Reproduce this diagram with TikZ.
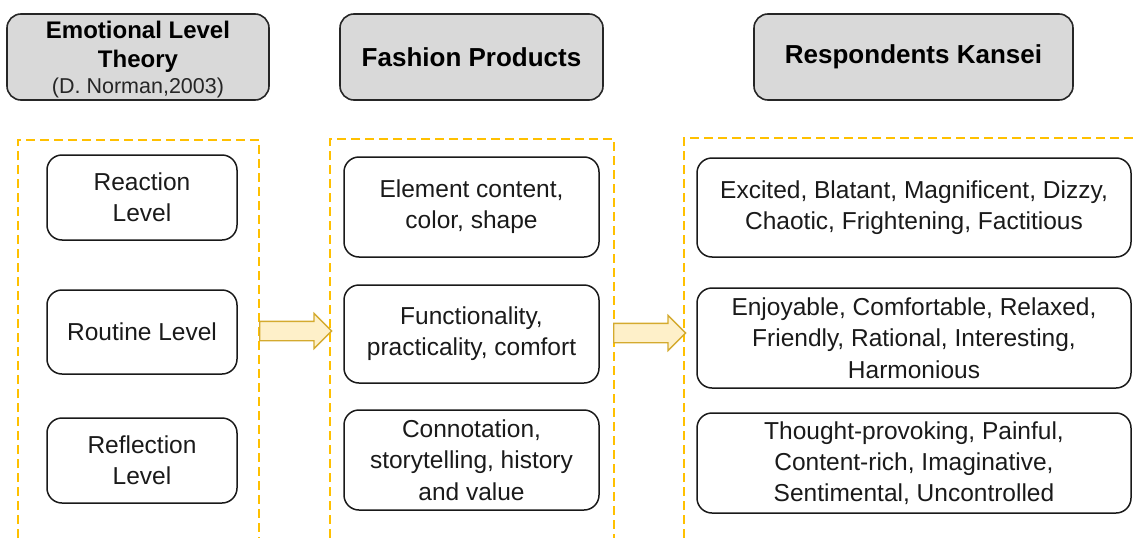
\documentclass[tikz,border=0pt]{standalone}
\usepackage{fontspec}
\setmainfont{Liberation Sans}
\usetikzlibrary{shapes.arrows}
\definecolor{frameY}{HTML}{FFC000}
\definecolor{arrFill}{HTML}{FEF0C9}
\definecolor{arrDraw}{HTML}{D4AA2E}
\definecolor{hdrFill}{HTML}{D9D9D9}
\definecolor{txt}{HTML}{1A1A1A}
\tikzset{
  hdr/.style={draw=black!85, line width=1.6pt, fill=hdrFill, rounded corners=14pt,
    inner sep=0pt, align=center, text=black, font=\fontsize{26}{29}\selectfont\bfseries},
  hdrtext/.style={inner sep=0pt, align=center, text=black, font=\fontsize{24}{29}\selectfont\bfseries},
  itembox/.style={draw=black!90, line width=1.5pt, rounded corners=15pt, inner sep=0pt,
    align=center, text=txt, font=\fontsize{24.5}{31.3}\selectfont},
  frame/.style={draw=frameY, line width=2pt, dash pattern=on 9pt off 5pt},
  blockarrow/.style={single arrow, draw=arrDraw, fill=arrFill, line width=1.3pt,
    minimum width=34pt, single arrow head extend=8pt, minimum height=72pt,
    inner xsep=0pt, inner ysep=9pt, anchor=tail}
}
\begin{document}
\begin{tikzpicture}[x=1pt,y=-1pt]
\useasboundingbox (0,0) rectangle (1137,538);
% headers
\node[hdr, minimum width=262pt, minimum height=86pt] (h1) at (138,57) {};
\node[hdrtext] (h1t) at (138,60)
  {Emotional Level\\Theory\\[-3pt]{\fontsize{21.5}{24}\selectfont\mdseries\color{black!85}(D. Norman,2003)}};
\node[hdr, minimum width=263pt, minimum height=86pt] (h2) at (471.5,57) {Fashion Products};
\node[hdr, minimum width=319pt, minimum height=86pt] (h3) at (913.5,57) {Respondents Kansei};
% frames
\draw[frame] (18,538) -- (18,140) -- (259,140) -- (259,538);
\draw[frame] (330,538) -- (330,139) -- (614,139) -- (614,538);
\draw[frame] (684,538) -- (684,138) -- (1137,138);
% left column
\node[itembox, minimum width=190pt, minimum height=85pt] (l1) at (142,197.5) {Reaction\\Level};
\node[itembox, minimum width=190pt, minimum height=84pt] (l2) at (142,332) {Routine Level};
\node[itembox, minimum width=190pt, minimum height=85pt] (l3) at (142,460.5) {Reflection\\Level};
% middle column
\node[itembox, minimum width=255pt, minimum height=100pt] (m1) at (471.5,207) {Element content,\\color, shape};
\node[itembox, minimum width=255pt, minimum height=98pt] (m2) at (471.5,334) {Functionality,\\practicality, comfort};
\node[itembox, minimum width=255pt, minimum height=100pt] (m3) at (471.5,460) {Connotation,\\storytelling, history\\and value};
% right column
\node[itembox, minimum width=434pt, minimum height=99pt] (r1) at (914,207.5) {Excited, Blatant, Magnificent, Dizzy,\\Chaotic, Frightening, Factitious};
\node[itembox, minimum width=434pt, minimum height=100pt] (r2) at (914,338) {Enjoyable, Comfortable, Relaxed,\\Friendly, Rational, Interesting,\\Harmonious};
\node[itembox, minimum width=434pt, minimum height=100pt] (r3) at (914,463) {Thought-provoking, Painful,\\Content-rich, Imaginative,\\Sentimental, Uncontrolled};
% arrows
\node[blockarrow] (a1) at (259,331) {};
\node[blockarrow] (a2) at (613,333) {};
\end{tikzpicture}
\end{document}
